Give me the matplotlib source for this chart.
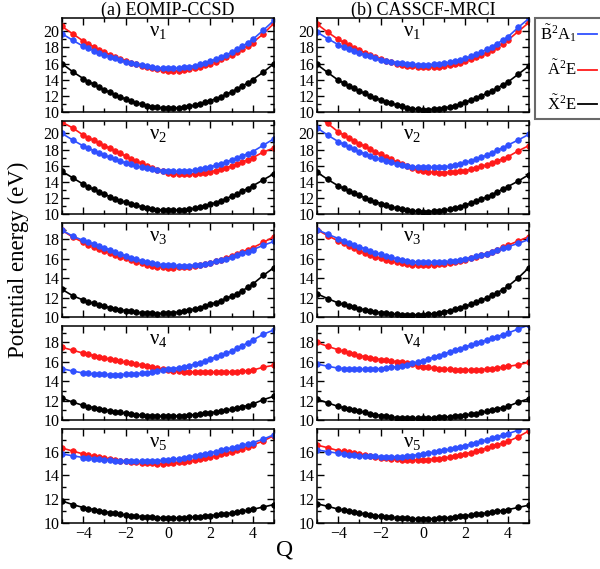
import numpy as np
import matplotlib
matplotlib.use("Agg")
import matplotlib.pyplot as plt
from matplotlib.lines import Line2D

plt.rcParams['font.family'] = 'Liberation Serif'
plt.rcParams['mathtext.fontset'] = 'custom'
plt.rcParams['mathtext.rm'] = 'Liberation Serif'
plt.rcParams['mathtext.it'] = 'Liberation Serif:italic'

# normal coordinate Q
Q = [-5, -4.5, -4, -3.75, -3.5, -3.25, -3, -2.75, -2.5, -2.25, -2, -1.75, -1.5, -1.25,
     -1, -0.75, -0.5, -0.25, 0, 0.25, 0.5, 0.75, 1, 1.25, 1.5, 1.75, 2, 2.25, 2.5, 2.75,
     3, 3.25, 3.5, 3.75, 4, 4.5, 5]

# ---------------- (a) EOMIP-CCSD ----------------
blue_a1 = [19.7, 18.9, 18.15, 17.87, 17.6, 17.34, 17.1, 16.87, 16.65, 16.44, 16.25, 16.08, 15.92, 15.78, 15.65, 15.55, 15.47, 15.42, 15.4, 15.41, 15.45, 15.52, 15.6, 15.73, 15.89, 16.08, 16.3, 16.54, 16.8, 17.09, 17.4, 17.76, 18.14, 18.56, 19.0, 20.15, 21.35]
red_a1 = [20.6, 19.7, 18.8, 18.42, 18.06, 17.72, 17.4, 17.11, 16.84, 16.58, 16.35, 16.13, 15.92, 15.73, 15.55, 15.4, 15.27, 15.17, 15.12, 15.11, 15.14, 15.21, 15.3, 15.44, 15.6, 15.79, 16.0, 16.25, 16.52, 16.8, 17.1, 17.44, 17.8, 18.19, 18.6, 19.7, 21.0]
black_a1 = [16.0, 15.0, 14.15, 13.78, 13.42, 13.08, 12.75, 12.44, 12.15, 11.87, 11.6, 11.37, 11.16, 10.97, 10.8, 10.67, 10.56, 10.49, 10.45, 10.47, 10.53, 10.6, 10.7, 10.84, 11.0, 11.19, 11.4, 11.64, 11.9, 12.19, 12.5, 12.84, 13.2, 13.59, 14.0, 14.95, 16.0]

blue_a2 = [20.0, 19.2, 18.45, 18.15, 17.86, 17.58, 17.3, 17.05, 16.8, 16.57, 16.35, 16.15, 15.98, 15.83, 15.7, 15.58, 15.47, 15.37, 15.3, 15.28, 15.28, 15.31, 15.35, 15.43, 15.54, 15.68, 15.85, 16.04, 16.25, 16.47, 16.7, 16.95, 17.2, 17.47, 17.75, 18.55, 19.35]
red_a2 = [21.4, 20.7, 19.8, 19.47, 19.14, 18.82, 18.5, 18.17, 17.84, 17.52, 17.2, 16.89, 16.58, 16.28, 16.0, 15.74, 15.5, 15.28, 15.1, 15.0, 14.95, 14.94, 14.95, 15.0, 15.06, 15.14, 15.25, 15.39, 15.56, 15.74, 15.95, 16.19, 16.45, 16.72, 17.0, 17.7, 18.2]
black_a2 = [15.3, 14.5, 13.7, 13.37, 13.05, 12.74, 12.45, 12.17, 11.91, 11.67, 11.45, 11.25, 11.06, 10.9, 10.75, 10.64, 10.55, 10.48, 10.45, 10.45, 10.49, 10.54, 10.6, 10.7, 10.82, 11.0, 11.2, 11.42, 11.66, 11.92, 12.2, 12.5, 12.82, 13.15, 13.5, 14.25, 15.0]

blue_a3 = [18.95, 18.35, 17.9, 17.72, 17.53, 17.34, 17.15, 16.93, 16.71, 16.5, 16.3, 16.12, 15.95, 15.79, 15.65, 15.54, 15.45, 15.39, 15.35, 15.32, 15.3, 15.29, 15.3, 15.35, 15.41, 15.5, 15.6, 15.73, 15.87, 16.03, 16.2, 16.38, 16.56, 16.75, 16.95, 17.4, 17.8]
red_a3 = [18.95, 18.25, 17.7, 17.48, 17.27, 17.06, 16.85, 16.64, 16.44, 16.24, 16.05, 15.87, 15.7, 15.54, 15.4, 15.28, 15.19, 15.13, 15.1, 15.1, 15.12, 15.15, 15.2, 15.28, 15.37, 15.48, 15.6, 15.76, 15.93, 16.11, 16.3, 16.5, 16.71, 16.93, 17.15, 17.7, 18.3]
black_a3 = [12.85, 12.2, 11.75, 11.57, 11.41, 11.25, 11.1, 10.97, 10.85, 10.74, 10.65, 10.57, 10.5, 10.44, 10.4, 10.37, 10.36, 10.37, 10.4, 10.45, 10.52, 10.6, 10.7, 10.82, 10.96, 11.12, 11.3, 11.49, 11.7, 11.92, 12.15, 12.41, 12.7, 13.05, 13.4, 14.3, 15.1]

blue_a4 = [15.3, 15.05, 14.85, 14.8, 14.76, 14.72, 14.7, 14.69, 14.69, 14.69, 14.7, 14.73, 14.77, 14.83, 14.9, 14.98, 15.06, 15.14, 15.22, 15.31, 15.4, 15.5, 15.6, 15.76, 15.93, 16.11, 16.3, 16.49, 16.69, 16.89, 17.1, 17.38, 17.66, 17.95, 18.25, 18.85, 19.3]
red_a4 = [17.5, 17.2, 16.9, 16.77, 16.65, 16.52, 16.4, 16.28, 16.17, 16.06, 15.95, 15.86, 15.77, 15.69, 15.6, 15.47, 15.34, 15.22, 15.12, 15.07, 15.03, 15.0, 14.97, 14.95, 14.93, 14.92, 14.92, 14.92, 14.93, 14.95, 14.97, 15.0, 15.04, 15.09, 15.15, 15.45, 15.65]
black_a4 = [12.25, 11.85, 11.5, 11.38, 11.27, 11.16, 11.05, 10.96, 10.87, 10.78, 10.7, 10.63, 10.56, 10.5, 10.45, 10.42, 10.4, 10.39, 10.4, 10.41, 10.43, 10.46, 10.5, 10.55, 10.61, 10.68, 10.75, 10.83, 10.91, 11.0, 11.1, 11.22, 11.35, 11.49, 11.65, 12.1, 12.45]

blue_a5 = [15.8, 15.65, 15.5, 15.45, 15.4, 15.35, 15.3, 15.27, 15.24, 15.22, 15.2, 15.19, 15.18, 15.18, 15.18, 15.2, 15.23, 15.26, 15.3, 15.35, 15.41, 15.48, 15.55, 15.63, 15.72, 15.81, 15.9, 16.0, 16.1, 16.2, 16.3, 16.41, 16.52, 16.63, 16.75, 17.05, 17.42]
red_a5 = [16.3, 16.05, 15.8, 15.71, 15.62, 15.53, 15.45, 15.38, 15.31, 15.24, 15.18, 15.13, 15.09, 15.06, 15.03, 15.01, 15.0, 15.0, 15.02, 15.05, 15.09, 15.14, 15.2, 15.28, 15.36, 15.45, 15.55, 15.66, 15.77, 15.88, 16.0, 16.13, 16.26, 16.4, 16.55, 16.9, 17.35]
black_a5 = [11.85, 11.55, 11.3, 11.21, 11.12, 11.03, 10.95, 10.88, 10.81, 10.74, 10.68, 10.63, 10.58, 10.54, 10.5, 10.47, 10.45, 10.43, 10.42, 10.42, 10.43, 10.45, 10.47, 10.5, 10.54, 10.58, 10.62, 10.67, 10.72, 10.78, 10.85, 10.92, 10.99, 11.07, 11.15, 11.35, 11.55]

# ---------------- (b) CASSCF-MRCI ----------------
blue_b1 = [19.9, 19.1, 18.35, 18.07, 17.8, 17.54, 17.3, 17.08, 16.88, 16.68, 16.5, 16.36, 16.24, 16.13, 16.05, 15.97, 15.91, 15.87, 15.85, 15.86, 15.9, 15.96, 16.05, 16.17, 16.31, 16.47, 16.65, 16.88, 17.14, 17.43, 17.75, 18.1, 18.48, 18.88, 19.3, 20.5, 21.6]
red_b1 = [20.9, 19.9, 19.0, 18.64, 18.29, 17.96, 17.65, 17.36, 17.08, 16.81, 16.55, 16.34, 16.15, 15.99, 15.85, 15.73, 15.64, 15.58, 15.55, 15.55, 15.58, 15.63, 15.7, 15.81, 15.95, 16.11, 16.3, 16.53, 16.78, 17.05, 17.35, 17.7, 18.08, 18.48, 18.9, 20.0, 21.1]
black_b1 = [15.9, 14.9, 13.95, 13.6, 13.26, 12.92, 12.6, 12.31, 12.02, 11.75, 11.5, 11.28, 11.07, 10.88, 10.7, 10.55, 10.43, 10.34, 10.3, 10.3, 10.34, 10.41, 10.5, 10.62, 10.77, 10.97, 11.2, 11.45, 11.72, 12.0, 12.3, 12.63, 12.97, 13.33, 13.7, 14.7, 15.7]

blue_b2 = [20.7, 19.8, 19.0, 18.67, 18.35, 18.04, 17.75, 17.49, 17.24, 17.01, 16.8, 16.6, 16.42, 16.25, 16.1, 15.98, 15.89, 15.83, 15.8, 15.79, 15.8, 15.82, 15.85, 15.93, 16.04, 16.2, 16.4, 16.6, 16.82, 17.05, 17.3, 17.59, 17.89, 18.21, 18.55, 19.2, 19.9]
red_b2 = [22.2, 21.25, 20.2, 19.83, 19.46, 19.1, 18.75, 18.41, 18.07, 17.73, 17.4, 17.08, 16.77, 16.48, 16.2, 15.95, 15.72, 15.52, 15.35, 15.24, 15.17, 15.14, 15.15, 15.18, 15.23, 15.3, 15.4, 15.54, 15.71, 15.9, 16.1, 16.34, 16.59, 16.84, 17.1, 17.85, 18.5]
black_b2 = [15.2, 14.3, 13.5, 13.19, 12.88, 12.58, 12.3, 12.03, 11.77, 11.53, 11.3, 11.1, 10.91, 10.74, 10.6, 10.49, 10.4, 10.33, 10.3, 10.31, 10.34, 10.39, 10.45, 10.56, 10.7, 10.88, 11.1, 11.33, 11.57, 11.83, 12.1, 12.41, 12.73, 13.06, 13.4, 14.1, 14.9]

blue_b3 = [19.0, 18.55, 18.1, 17.88, 17.67, 17.46, 17.25, 17.04, 16.84, 16.64, 16.45, 16.29, 16.14, 16.01, 15.9, 15.8, 15.72, 15.67, 15.65, 15.65, 15.66, 15.68, 15.7, 15.75, 15.81, 15.9, 16.0, 16.12, 16.25, 16.4, 16.55, 16.72, 16.89, 17.07, 17.25, 17.6, 18.0]
red_b3 = [19.0, 18.4, 17.85, 17.59, 17.34, 17.09, 16.85, 16.63, 16.43, 16.23, 16.05, 15.9, 15.77, 15.65, 15.55, 15.46, 15.4, 15.36, 15.35, 15.37, 15.4, 15.44, 15.5, 15.58, 15.67, 15.78, 15.9, 16.05, 16.2, 16.37, 16.55, 16.75, 16.96, 17.18, 17.4, 17.85, 18.3]
black_b3 = [12.4, 11.9, 11.45, 11.29, 11.13, 10.99, 10.85, 10.74, 10.63, 10.54, 10.45, 10.38, 10.32, 10.28, 10.25, 10.23, 10.22, 10.23, 10.25, 10.29, 10.35, 10.44, 10.55, 10.67, 10.8, 10.95, 11.1, 11.29, 11.5, 11.72, 11.95, 12.22, 12.51, 12.82, 13.15, 14.05, 15.1]

blue_b4 = [15.77, 15.55, 15.35, 15.31, 15.28, 15.25, 15.24, 15.24, 15.25, 15.27, 15.3, 15.35, 15.42, 15.5, 15.6, 15.72, 15.85, 15.99, 16.13, 16.3, 16.48, 16.65, 16.83, 17.01, 17.19, 17.36, 17.54, 17.72, 17.9, 18.07, 18.25, 18.43, 18.61, 18.78, 18.96, 19.4, 19.8]
red_b4 = [18.0, 17.6, 17.25, 17.08, 16.94, 16.79, 16.65, 16.54, 16.43, 16.33, 16.23, 16.16, 16.09, 16.02, 15.95, 15.84, 15.73, 15.61, 15.5, 15.43, 15.36, 15.3, 15.25, 15.22, 15.19, 15.18, 15.17, 15.17, 15.18, 15.21, 15.25, 15.31, 15.38, 15.45, 15.53, 15.7, 15.95]
black_b4 = [12.15, 11.77, 11.4, 11.27, 11.14, 11.02, 10.9, 10.78, 10.67, 10.56, 10.46, 10.38, 10.31, 10.25, 10.2, 10.18, 10.17, 10.17, 10.18, 10.2, 10.23, 10.26, 10.3, 10.34, 10.39, 10.44, 10.5, 10.58, 10.67, 10.78, 10.9, 11.02, 11.14, 11.27, 11.4, 11.85, 12.2]

blue_b5 = [16.14, 16.0, 15.86, 15.8, 15.74, 15.69, 15.64, 15.62, 15.6, 15.59, 15.58, 15.57, 15.57, 15.57, 15.58, 15.62, 15.67, 15.73, 15.8, 15.87, 15.94, 16.02, 16.1, 16.2, 16.29, 16.39, 16.5, 16.62, 16.74, 16.86, 16.98, 17.11, 17.24, 17.37, 17.5, 17.8, 18.1]
red_b5 = [16.55, 16.33, 16.08, 16.01, 15.94, 15.87, 15.8, 15.72, 15.65, 15.57, 15.5, 15.44, 15.39, 15.34, 15.3, 15.29, 15.28, 15.29, 15.3, 15.33, 15.37, 15.41, 15.45, 15.53, 15.61, 15.7, 15.8, 15.92, 16.04, 16.17, 16.3, 16.43, 16.57, 16.71, 16.85, 17.25, 17.75]
black_b5 = [11.62, 11.4, 11.17, 11.09, 11.0, 10.92, 10.84, 10.77, 10.7, 10.63, 10.56, 10.52, 10.48, 10.45, 10.42, 10.39, 10.37, 10.35, 10.34, 10.35, 10.37, 10.39, 10.42, 10.46, 10.51, 10.56, 10.61, 10.66, 10.72, 10.78, 10.84, 10.91, 10.98, 11.05, 11.12, 11.31, 11.5]

panels_a = [(blue_a1, red_a1, black_a1), (blue_a2, red_a2, black_a2), (blue_a3, red_a3, black_a3),
            (blue_a4, red_a4, black_a4), (blue_a5, red_a5, black_a5)]
panels_b = [(blue_b1, red_b1, black_b1), (blue_b2, red_b2, black_b2), (blue_b3, red_b3, black_b3),
            (blue_b4, red_b4, black_b4), (blue_b5, red_b5, black_b5)]

ytop = [21.65, 21.55, 19.7, 19.7, 17.9]
yticks = [[10, 12, 14, 16, 18, 20], [10, 12, 14, 16, 18, 20], [10, 12, 14, 16, 18],
          [10, 12, 14, 16, 18], [10, 12, 14, 16]]
modes = ['1', '2', '3', '4', '5']

BLUE = '#3050ff'
RED = '#ff1a1a'
BLACK = '#000000'

W, H = 600, 569
fig = plt.figure(figsize=(6, 5.69), dpi=100)

rows_px = [(18, 112), (121, 214), (223, 317), (326, 420), (429, 523)]
cols_px = [(62, 274), (317, 529)]

for ci, panels in enumerate([panels_a, panels_b]):
    for ri, (b, r, k) in enumerate(panels):
        x0, x1 = cols_px[ci]
        t, bt = rows_px[ri]
        ax = fig.add_axes([x0 / W, 1 - bt / H, (x1 - x0) / W, (bt - t) / H])
        for ys, c in [(k, BLACK), (r, RED), (b, BLUE)]:
            ax.plot(Q, ys, color=c, lw=1.2, marker='o', ms=4.0, mec=c, mew=0.6)
        ax.set_xlim(-5, 5)
        ax.set_ylim(10, ytop[ri])
        ax.set_yticks(yticks[ri])
        ax.set_yticks(np.arange(11, ytop[ri], 2), minor=True)
        ax.set_xticks([-4, -2, 0, 2, 4])
        ax.set_xticks([-5, -3, -1, 1, 3, 5], minor=True)
        ax.tick_params(which='both', direction='in', top=True, right=True, width=1.0)
        ax.tick_params(which='major', length=5, labelsize=11.5, pad=2)
        ax.tick_params(which='minor', length=3)
        if ri < 4:
            ax.set_xticklabels([])
        for s in ax.spines.values():
            s.set_linewidth(1.1)
        ax.text(-0.45 if ci == 0 else -0.5, 0.86, r'$\mathrm{\nu}_{%s}$' % modes[ri],
                transform=ax.get_xaxis_transform(), ha='center', va='center', fontsize=15)

fig.text(168 / W, 1 - 10 / H, '(a) EOMIP-CCSD', ha='center', va='center', fontsize=13)
fig.text(423 / W, 1 - 10 / H, '(b) CASSCF-MRCI', ha='center', va='center', fontsize=13)
fig.text(18 / W, 1 - 260 / H, 'Potential energy (eV)', rotation=90, ha='center', va='center', fontsize=16.5)
fig.text(285 / W, 1 - 550 / H, 'Q', ha='center', va='center', fontsize=17)

handles = [Line2D([], [], color=BLUE, lw=1.3), Line2D([], [], color=RED, lw=1.3),
           Line2D([], [], color=BLACK, lw=1.3)]
labels = [r'$\tilde{\mathrm{B}}^2\mathrm{A}_1$', r'$\tilde{\mathrm{A}}^2\mathrm{E}$',
          r'$\tilde{\mathrm{X}}^2\mathrm{E}$']
leg = fig.legend(handles, labels, loc='upper left', bbox_to_anchor=(535 / W, 1 - 18 / H),
                 markerfirst=False, fontsize=12, frameon=True, fancybox=False,
                 handlelength=1.1, handletextpad=0.1, labelspacing=0.95,
                 borderpad=0.3, borderaxespad=0)
leg.get_frame().set_edgecolor('#444444')
leg.get_frame().set_linewidth(1.5)

fig.savefig('out.png', dpi=100)
